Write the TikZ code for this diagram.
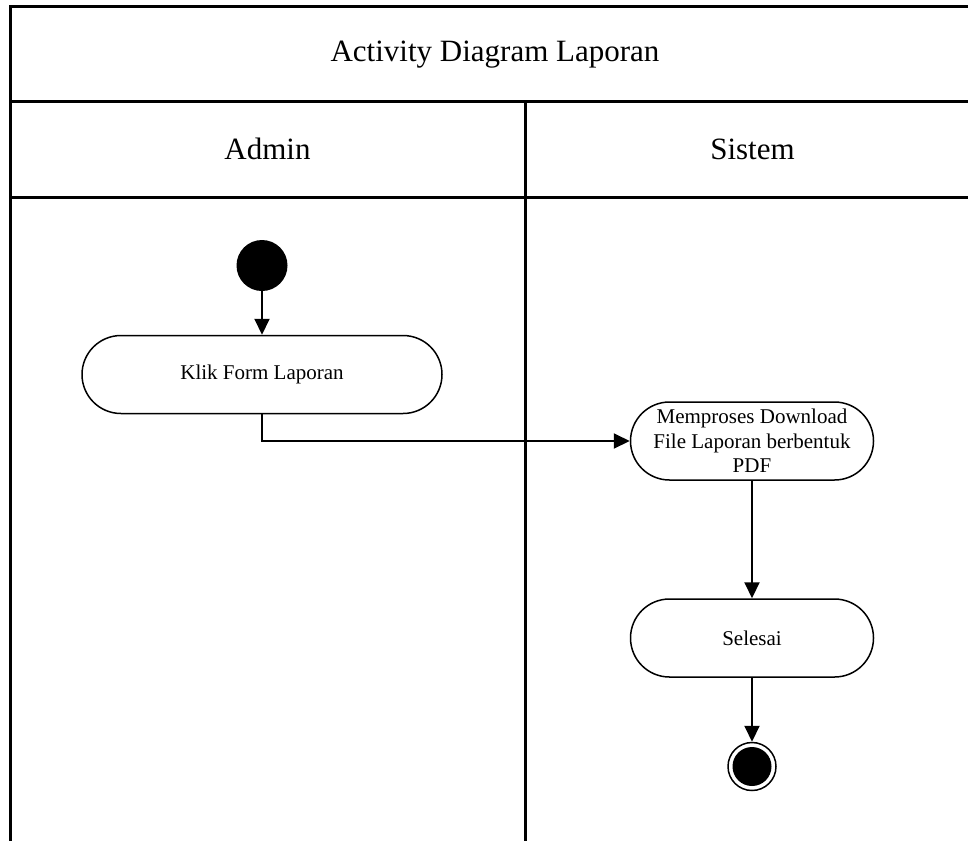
\documentclass[tikz,border=0pt]{standalone}
\usepackage{fontspec}
\setmainfont{Liberation Serif}
\usetikzlibrary{arrows.meta}
\begin{document}
\begin{tikzpicture}[x=1pt,y=-1pt,
  frame/.style={line width=3pt},
  head/.style={font=\fontsize{31}{36}\selectfont, inner sep=0pt, anchor=base},
  act/.style={draw, line width=1.5pt, rounded corners=39pt, minimum height=78pt,
    align=center, font=\fontsize{21}{24.5}\selectfont, inner sep=0pt},
  flow/.style={line width=2pt, -{Triangle[width=15pt,length=16pt]}}]
\useasboundingbox (0,0) rectangle (968,841);
% frame
\draw[frame] (968,6) -- (10,6) -- (10,841);
\draw[frame] (10,101.5) -- (968,101.5);
\draw[frame] (10,197.5) -- (968,197.5);
\draw[frame] (525,101.5) -- (525,841);
% headers
\node[head] (title) at (495,61) {Activity Diagram Laporan};
\node[head] (admin) at (267.5,159.5) {Admin};
\node[head] (sistem) at (752.5,159.5) {Sistem};
% nodes
\node[circle, fill, minimum size=51pt, inner sep=0pt] (start) at (262,265.5) {};
\node[act, minimum width=360pt] (klik) at (262,374.5) {Klik Form Laporan};
\node[act, minimum width=243pt] (proses) at (752,441)
  {Memproses Download\\File Laporan berbentuk\\PDF};
\node[act, minimum width=243pt] (selesai) at (752,638) {Selesai};
\node[circle, draw, line width=1.5pt, minimum size=48pt, inner sep=0pt,
  path picture={\fill (path picture bounding box.center) circle (19.5pt);}] (fin) at (752,766.5) {};
% connectors
\draw[flow] (start.south) -- (klik.north);
\draw[flow] (klik.south) |- (proses.west);
\draw[flow] (proses.south) -- (selesai.north);
\draw[flow] (selesai.south) -- (fin.north);
\end{tikzpicture}
\end{document}
